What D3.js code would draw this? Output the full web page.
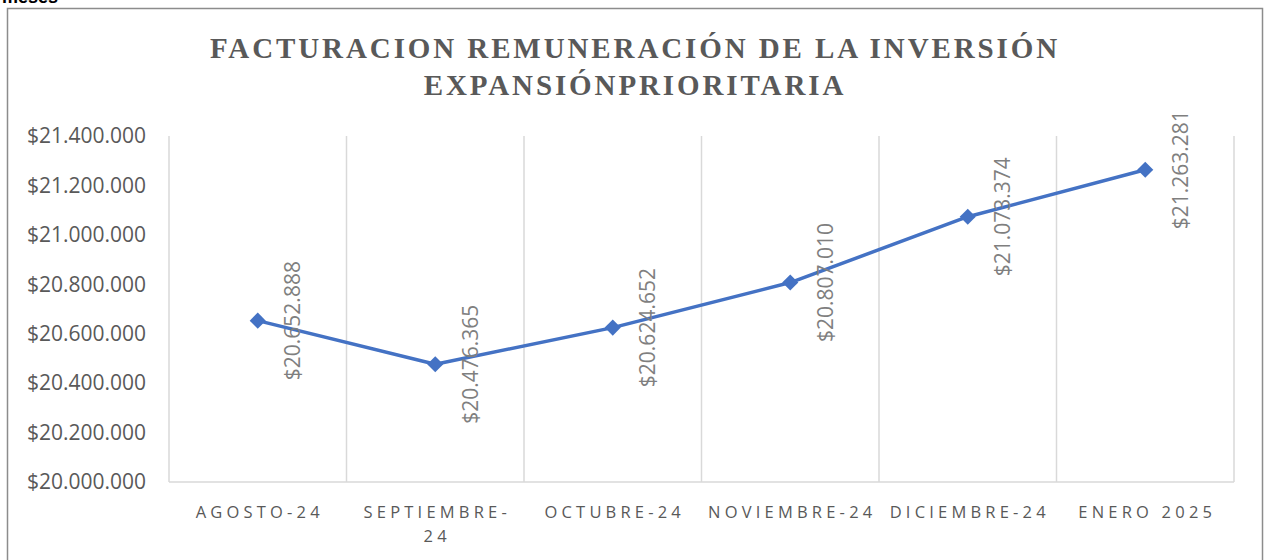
<!DOCTYPE html>
<html>
<head>
<meta charset="utf-8">
<script src="https://cdn.jsdelivr.net/npm/d3@7"></script>
<style>
  body { margin: 0; background: #fff; }
  svg { display: block; }
</style>
</head>
<body>
<svg id="chart" width="1264" height="560"></svg>
<script>
// chart data
const months = ['AGOSTO-24', 'SEPTIEMBRE-24', 'OCTUBRE-24', 'NOVIEMBRE-24', 'DICIEMBRE-24', 'ENERO 2025'];
const values = [20652888, 20476365, 20624652, 20807010, 21073374, 21263281];
const yTicks = [20000000, 20200000, 20400000, 20600000, 20800000, 21000000, 21200000, 21400000];
const titleLines = ['FACTURACION REMUNERACIÓN DE LA INVERSIÓN', 'EXPANSIÓNPRIORITARIA'];

const lineColor = '#4472C4';
const textGray = '#595959';

var svg = d3.select('#chart');

// cut off caption above the chart box (it is cropped in the original too)
svg.append('text')
  .attr('x', 2).attr('y', 3)
  .style('font', 'bold 18px "Liberation Sans", sans-serif')
  .style('fill', '#000')
  .text('meses');

// chart box
svg.append('rect')
  .attr('x', 7.5).attr('y', 8.5)
  .attr('width', 1255).attr('height', 600)
  .attr('fill', '#fff')
  .attr('stroke', '#8c8c8c')
  .attr('stroke-width', 1.5);

// title
var title = svg.append('text')
  .attr('text-anchor', 'middle')
  .style('font', 'bold 29px "Liberation Serif", serif')
  .style('letter-spacing', '2.9px')
  .style('fill', textGray);
titleLines.forEach(function (t, i) {
  title.append('tspan').attr('x', 635).attr('y', 58 + i * 37).text(t);
});

var x0 = 169, x1 = 1234, yTop = 136, yBot = 482;

var x = d3.scaleBand().domain(months).range([x0, x1]);
var y = d3.scaleLinear().domain([20000000, 21400000]).range([yBot, yTop]);

var fmt = d3.formatLocale({ decimal: ',', thousands: '.', grouping: [3], currency: ['$', ''] }).format('$,.0f');

// vertical gridlines at category boundaries
var bounds = months.map(function (m) { return x(m); }).concat([x1]);
svg.append('g').selectAll('line')
  .data(bounds)
  .enter()
  .append('line')
  .attr('x1', function (d) { return d; })
  .attr('x2', function (d) { return d; })
  .attr('y1', yTop).attr('y2', yBot)
  .attr('stroke', '#d9d9d9')
  .attr('stroke-width', 1.5);

// baseline
svg.append('line')
  .attr('x1', x0).attr('x2', x1)
  .attr('y1', yBot).attr('y2', yBot)
  .attr('stroke', '#d9d9d9')
  .attr('stroke-width', 1.5);

// y axis labels
svg.append('g').selectAll('text')
  .data(yTicks)
  .enter()
  .append('text')
  .attr('x', 146)
  .attr('y', function (d) { return y(d); })
  .attr('dy', '0.35em')
  .attr('text-anchor', 'end')
  .style('font', '21px "Open Sans", sans-serif')
  .style('fill', textGray)
  .text(fmt);

// x axis labels (septiembre wraps)
var xl = svg.append('g').selectAll('text')
  .data(months)
  .enter()
  .append('text')
  .attr('text-anchor', 'middle')
  .style('font', '16.5px "Open Sans", sans-serif')
  .style('letter-spacing', '4.2px')
  .style('fill', textGray);
xl.each(function (m) {
  var cx = x(m) + x.bandwidth() / 2 + 2;
  var parts = m === 'SEPTIEMBRE-24' ? ['SEPTIEMBRE-', '24'] : [m];
  var t = d3.select(this);
  parts.forEach(function (p, i) {
    t.append('tspan').attr('x', cx).attr('y', 518 + i * 24).text(p);
  });
});

// line
var line = d3.line()
  .x(function (d, i) { return x(months[i]) + x.bandwidth() / 2; })
  .y(function (d) { return y(d); });

svg.append('path')
  .datum(values)
  .attr('d', line)
  .attr('fill', 'none')
  .attr('stroke', lineColor)
  .attr('stroke-width', 3.5)
  .attr('stroke-linejoin', 'round');

// markers
svg.append('g').selectAll('path')
  .data(values)
  .enter()
  .append('path')
  .attr('d', d3.symbol().type(d3.symbolDiamond2).size(165))
  .attr('transform', function (d, i) {
    return 'translate(' + (x(months[i]) + x.bandwidth() / 2) + ',' + y(d) + ')';
  })
  .attr('fill', lineColor);

// data labels, rotated
svg.append('g').selectAll('text')
  .data(values)
  .enter()
  .append('text')
  .attr('transform', function (d, i) {
    return 'translate(' + (x(months[i]) + x.bandwidth() / 2 + 35) + ',' + y(d) + ') rotate(-90)';
  })
  .attr('text-anchor', 'middle')
  .attr('dy', '0.35em')
  .style('font', '21px "Open Sans", sans-serif')
  .style('fill', '#7f7f7f')
  .text(fmt);
</script>
</body>
</html>
